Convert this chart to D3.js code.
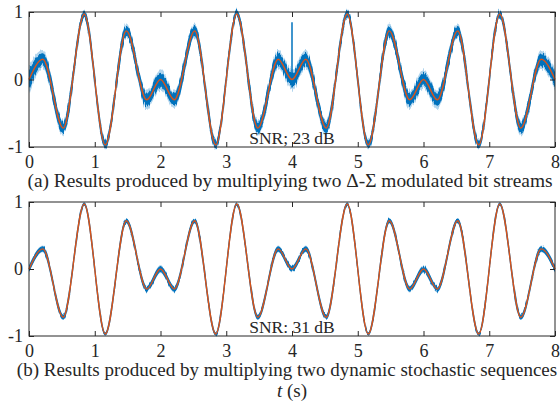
<!DOCTYPE html>
<html>
<head>
<meta charset="utf-8">
<script src="https://cdn.jsdelivr.net/npm/d3@7"></script>
<style>
  body { margin: 0; background: #fff; }
  text { font-family: "Liberation Serif", "Times New Roman", serif; fill: #262626; }
</style>
</head>
<body>
<div class="chart"></div>
<script>
// time instants (s) of the turning points
var tPts = [0, 0.21, 0.52, 0.84, 1.16, 1.48, 1.79, 2, 2.21, 2.52, 2.84, 3.16, 3.48, 3.79, 4,
  4.21, 4.52, 4.84, 5.16, 5.48, 5.79, 6, 6.21, 6.52, 6.84, 7.16, 7.48, 7.79, 8];
// exact product (red) at those instants
var refVals = [0, 0.3, -0.72, 0.97, -0.97, 0.72, -0.3, 0, -0.3, 0.72, -0.97, 0.97, -0.72, 0.3, 0,
  0.3, -0.72, 0.97, -0.97, 0.72, -0.3, 0, -0.3, 0.72, -0.97, 0.97, -0.72, 0.3, 0];
// half height of the noisy (blue) band, panel (a) and panel (b)
var noiseA = [0.13, 0.08, 0.065, 0.04, 0.04, 0.065, 0.08, 0.09, 0.08, 0.065, 0.04, 0.04, 0.065, 0.08, 0.09,
  0.08, 0.065, 0.04, 0.04, 0.065, 0.08, 0.09, 0.08, 0.065, 0.04, 0.04, 0.065, 0.08, 0.09];
var noiseB = [0.03, 0.03, 0.025, 0.015, 0.015, 0.025, 0.03, 0.035, 0.03, 0.025, 0.015, 0.015, 0.025, 0.03, 0.03,
  0.03, 0.025, 0.015, 0.015, 0.025, 0.03, 0.035, 0.03, 0.025, 0.015, 0.015, 0.025, 0.03, 0.035];
// single glitch in panel (a) at t = 4 s
var spikeA = [{ t: 4.0, lo: -0.12, hi: 0.85 }];

var xTicks = [0, 1, 2, 3, 4, 5, 6, 7, 8];
var yTicks = [-1, 0, 1];
var captions = ["(a) Results produced by multiplying two \u0394-\u03A3 modulated bit streams",
  "(b) Results produced by multiplying two dynamic stochastic sequences"];
var snrLabels = ["SNR; 23 dB", "SNR: 31 dB"];

var svgWidth = 560, svgHeight = 405;
var blue = "#0072BD", red = "#D95319";

var svg = d3.select(".chart").append("svg")
  .attr("width", svgWidth)
  .attr("height", svgHeight);

// rough vertical jitter for the noisy band edges
var defs = svg.append("defs");
[["jitA", 8], ["jitB", 3]].forEach(function(f) {
  var flt = defs.append("filter").attr("id", f[0])
    .attr("x", 0).attr("y", -0.2).attr("width", 1).attr("height", 1.4);
  flt.append("feTurbulence").attr("type", "fractalNoise")
    .attr("baseFrequency", "0.9 0.04").attr("numOctaves", 2).attr("seed", 3).attr("result", "n");
  flt.append("feColorMatrix").attr("in", "n").attr("type", "matrix")
    .attr("values", "0 0 0 0 0.5  0 1 0 0 0  0 0 0 0 0  0 0 0 0 1").attr("result", "m");
  flt.append("feDisplacementMap").attr("in", "SourceGraphic").attr("in2", "m")
    .attr("scale", f[1]).attr("xChannelSelector", "R").attr("yChannelSelector", "G");
});

var x = d3.scaleLinear().domain([0, 8]).range([29, 555]);

var panels = [
  { top: 12, bottom: 147, noise: noiseA, spikes: spikeA, capX: 290, capY: 187, capSize: 19.4, jit: "jitA" },
  { top: 202, bottom: 336, noise: noiseB, spikes: [], capX: 287, capY: 376, capSize: 19, jit: "jitB" }
];

var rows = tPts.map(function(t, i) { return { t: t, v: refVals[i], i: i }; });

panels.forEach(function(p, k) {
  var y = d3.scaleLinear().domain([-1, 1]).range([p.bottom, p.top]);
  var g = svg.append("g");

  // noisy output as a band around the reference
  var bandAt = function(s) {
    return d3.area()
      .x(function(d) { return x(d.t); })
      .y0(function(d) { return y(d.v - p.noise[d.i] * s); })
      .y1(function(d) { return y(d.v + p.noise[d.i] * s); })
      .curve(d3.curveMonotoneX);
  };

  var bg = g.append("g").attr("filter", "url(#" + p.jit + ")");
  bg.append("path").datum(rows)
    .attr("d", bandAt(1.7))
    .attr("fill", "#4f9fd8")
    .attr("opacity", 0.45);
  bg.append("path").datum(rows)
    .attr("d", bandAt(1))
    .attr("fill", blue)
    .attr("stroke", blue)
    .attr("stroke-width", 1.2);

  g.selectAll(".spike").data(p.spikes).enter()
    .append("line")
    .attr("x1", function(d) { return x(d.t); })
    .attr("x2", function(d) { return x(d.t); })
    .attr("y1", function(d) { return y(d.lo); })
    .attr("y2", function(d) { return y(d.hi); })
    .attr("stroke", blue)
    .attr("stroke-width", 1.5);

  // reference product
  var line = d3.line()
    .x(function(d) { return x(d.t); })
    .y(function(d) { return y(d.v); })
    .curve(d3.curveMonotoneX);

  g.append("path").datum(rows)
    .attr("d", line)
    .attr("fill", "none")
    .attr("stroke", red)
    .attr("stroke-width", 1.4);

  // box + inward ticks
  g.append("rect")
    .attr("x", x(0)).attr("y", p.top)
    .attr("width", x(8) - x(0)).attr("height", p.bottom - p.top)
    .attr("fill", "none").attr("stroke", "#262626").attr("stroke-width", 1);

  var xb = g.append("g").attr("transform", "translate(0," + p.bottom + ")")
    .call(d3.axisBottom(x).tickValues(xTicks).tickFormat(d3.format("d"))
      .tickSizeInner(-5).tickSizeOuter(0).tickPadding(8));
  var xt = g.append("g").attr("transform", "translate(0," + p.top + ")")
    .call(d3.axisTop(x).tickValues(xTicks).tickFormat("")
      .tickSizeInner(-5).tickSizeOuter(0));
  var yl = g.append("g").attr("transform", "translate(" + x(0) + ",0)")
    .call(d3.axisLeft(y).tickValues(yTicks).tickFormat(d3.format("d"))
      .tickSizeInner(-5).tickSizeOuter(0).tickPadding(6));
  var yr = g.append("g").attr("transform", "translate(" + x(8) + ",0)")
    .call(d3.axisRight(y).tickValues(yTicks).tickFormat("")
      .tickSizeInner(-5).tickSizeOuter(0));

  [xb, xt, yl, yr].forEach(function(a) {
    a.select(".domain").remove();
    a.selectAll("line").attr("stroke", "#262626");
    a.selectAll("text").attr("font-family", "Liberation Serif, serif")
      .attr("font-size", 18).attr("fill", "#262626");
  });
  yl.selectAll("text").text(function(d) { return d === -1 ? "-1" : d; });

  g.append("text")
    .attr("x", x(4)).attr("y", p.bottom - 3)
    .attr("text-anchor", "middle")
    .attr("font-size", 17.5)
    .text(snrLabels[k]);

  g.append("text")
    .attr("x", p.capX).attr("y", p.capY)
    .attr("text-anchor", "middle")
    .attr("font-size", p.capSize)
    .text(captions[k]);
});

var xl = svg.append("text")
  .attr("x", 292).attr("y", 397)
  .attr("text-anchor", "middle")
  .attr("font-size", 19);
xl.append("tspan").attr("font-style", "italic").text("t");
xl.append("tspan").text(" (s)");
</script>
</body>
</html>
